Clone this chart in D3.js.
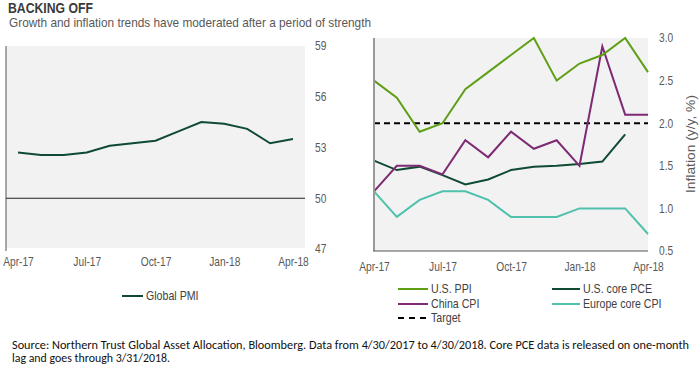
<!DOCTYPE html>
<html>
<head>
<meta charset="utf-8">
<script src="https://cdn.jsdelivr.net/npm/d3@7"></script>
<style>
  html, body { margin: 0; padding: 0; background: #fff; }
  svg { display: block; font-family: "Liberation Sans", Arial, sans-serif; }
  .tick-label { font-size: 12px; fill: #595959; }
  .legend-label { font-size: 12.5px; fill: #404040; }
  .source { font-family: Carlito, Calibri, "Liberation Sans", sans-serif; font-size: 12.5px; fill: #111; }
</style>
</head>
<body>
<div id="chart"></div>
<script>
// data
const months = ['Apr-17', 'May-17', 'Jun-17', 'Jul-17', 'Aug-17', 'Sep-17', 'Oct-17',
  'Nov-17', 'Dec-17', 'Jan-18', 'Feb-18', 'Mar-18', 'Apr-18'];
const tickMonths = ['Apr-17', 'Jul-17', 'Oct-17', 'Jan-18', 'Apr-18'];

const globalPmi = [52.7, 52.55, 52.55, 52.7, 53.1, 53.25, 53.4, 53.95, 54.5, 54.4, 54.1, 53.25, 53.5];
const pmiTicks = [47, 50, 53, 56, 59];
const pmiBaseline = 50;

const usPpi = [2.5, 2.3, 1.9, 2.0, 2.4, 2.6, 2.8, 3.0, 2.5, 2.7, 2.8, 3.0, 2.6];
const usCorePce = [1.56, 1.45, 1.49, 1.39, 1.28, 1.34, 1.45, 1.49, 1.5, 1.52, 1.55, 1.87, null];
const chinaCpi = [1.2, 1.5, 1.5, 1.4, 1.8, 1.6, 1.9, 1.7, 1.8, 1.5, 2.9, 2.1, 2.1];
const europeCoreCpi = [1.2, 0.9, 1.1, 1.2, 1.2, 1.1, 0.9, 0.9, 0.9, 1.0, 1.0, 1.0, 0.7];
const inflationTarget = 2.0;
const inflationTicks = [0.5, 1.0, 1.5, 2.0, 2.5, 3.0];

const colors = {
  pmi: '#0f4a33',
  ppi: '#5f9f16',
  pce: '#0f4a33',
  china: '#7e2a74',
  europe: '#4fc1ad',
  target: '#000',
};

const width = 700;
const height = 370;
// horizontal squeeze to mimic a narrow font
const narrow = 0.85;

const $svg = d3.select('#chart').append('svg')
  .attr('width', width)
  .attr('height', height);

// title
$svg.append('text')
  .attr('x', 8).attr('y', 13)
  .attr('textLength', 85).attr('lengthAdjust', 'spacingAndGlyphs')
  .style('font-size', '14px').style('font-weight', 'bold').style('fill', '#3a3a3a')
  .text('BACKING OFF');
$svg.append('text')
  .attr('x', 9).attr('y', 27)
  .attr('textLength', 362).attr('lengthAdjust', 'spacingAndGlyphs')
  .style('font-size', '13px').style('fill', '#595959')
  .text('Growth and inflation trends have moderated after a period of strength');

// helper: draw one series line
function drawLine($g, values, scaleX, scaleY, color, dash) {
  const line = d3.line()
    .defined(d => d != null)
    .x((d, i) => scaleX(months[i]))
    .y(d => scaleY(d));
  $g.append('path')
    .datum(values)
    .attr('fill', 'none')
    .attr('stroke', color)
    .attr('stroke-width', 2)
    .attr('stroke-dasharray', dash || null)
    .attr('d', line);
}

// helper: restyle axis labels, squeezed
function styleTicks(g, padX) {
  g.select('.domain').remove();
  g.selectAll('text')
    .attr('class', 'tick-label')
    .style('font-family', null).style('font-size', null)
    .attr('transform', `scale(${narrow},1)`);
  if (padX != null) g.selectAll('text').attr('x', padX / narrow);
}

// ---- left chart: Global PMI
const left = { x0: 6, x1: 305, y0: 46, y1: 248 };
const pmiX = d3.scalePoint().domain(months).range([18, 293]);
const pmiY = d3.scaleLinear().domain([47, 59]).range([left.y1 + 1, left.y0]);

const $left = $svg.append('g').attr('class', 'left');
$left.append('rect')
  .attr('x', left.x0).attr('y', left.y0)
  .attr('width', left.x1 - left.x0).attr('height', left.y1 - left.y0)
  .attr('fill', '#f2f2f2');

$left.append('line')
  .attr('x1', left.x0).attr('x2', left.x0)
  .attr('y1', left.y0).attr('y2', left.y1 + 3)
  .attr('stroke', '#555').attr('stroke-width', 1);

$left.append('line')
  .attr('x1', left.x0).attr('x2', left.x1)
  .attr('y1', pmiY(pmiBaseline)).attr('y2', pmiY(pmiBaseline))
  .attr('stroke', '#222').attr('stroke-width', 1);

$left.append('g')
  .attr('transform', `translate(${left.x1}, 0)`)
  .call(d3.axisRight(pmiY).tickValues(pmiTicks).tickSize(0))
  .call(g => styleTicks(g, 10));

$left.append('g')
  .attr('transform', `translate(0, ${left.y1})`)
  .call(d3.axisBottom(pmiX).tickValues(tickMonths).tickSize(0).tickPadding(9))
  .call(g => styleTicks(g));

drawLine($left, globalPmi, pmiX, pmiY, colors.pmi);

// ---- right chart: inflation
const right = { x0: 374, x1: 648, y0: 38, y1: 251 };
const infX = d3.scalePoint().domain(months).range([right.x0, right.x1]);
const infY = d3.scaleLinear().domain([0.5, 3.0]).range([right.y1, right.y0]);

const $right = $svg.append('g').attr('class', 'right');
$right.append('rect')
  .attr('x', right.x0).attr('y', right.y0)
  .attr('width', right.x1 - right.x0).attr('height', right.y1 - right.y0)
  .attr('fill', '#f2f2f2');

$right.append('g')
  .attr('transform', `translate(${right.x1}, 0)`)
  .call(d3.axisRight(infY).tickValues(inflationTicks).tickSize(0).tickFormat(d3.format('.1f')))
  .call(g => styleTicks(g, 11));

$right.append('g')
  .attr('transform', `translate(0, ${right.y1})`)
  .call(d3.axisBottom(infX).tickValues(tickMonths).tickSize(0).tickPadding(11))
  .call(g => styleTicks(g));

$right.append('text')
  .attr('class', 'tick-label')
  .style('font-size', '13px')
  .attr('transform', `translate(695, 144) rotate(-90)`)
  .attr('text-anchor', 'middle')
  .attr('textLength', 98).attr('lengthAdjust', 'spacingAndGlyphs')
  .text('Inflation (y/y, %)');

// target line under series
$right.append('line')
  .attr('x1', right.x0).attr('x2', right.x1)
  .attr('y1', infY(inflationTarget)).attr('y2', infY(inflationTarget))
  .attr('stroke', colors.target).attr('stroke-width', 2)
  .attr('stroke-dasharray', '6,4');

drawLine($right, europeCoreCpi, infX, infY, colors.europe);
drawLine($right, usCorePce, infX, infY, colors.pce);
drawLine($right, chinaCpi, infX, infY, colors.china);
drawLine($right, usPpi, infX, infY, colors.ppi);

// axis lines on top
$right.append('line')
  .attr('x1', right.x0).attr('x2', right.x0)
  .attr('y1', right.y0).attr('y2', right.y1)
  .attr('stroke', '#999').attr('stroke-width', 2);
$right.append('line')
  .attr('x1', right.x0 - 1).attr('x2', right.x1)
  .attr('y1', right.y1).attr('y2', right.y1)
  .attr('stroke', '#555').attr('stroke-width', 1);

// ---- legends
function legendItem(x, y, len, color, label, dash) {
  const $g = $svg.append('g').attr('transform', `translate(${x}, ${y})`);
  $g.append('line')
    .attr('x1', 0).attr('x2', len)
    .attr('stroke', color).attr('stroke-width', 2)
    .attr('stroke-dasharray', dash || null);
  $g.append('text')
    .attr('class', 'legend-label')
    .attr('transform', `translate(${len + 3}, 0) scale(${narrow},1)`)
    .attr('dy', '0.35em')
    .text(label);
}

legendItem(122, 296, 21, colors.pmi, 'Global PMI');
legendItem(398, 289, 30, colors.ppi, 'U.S. PPI');
legendItem(398, 304, 30, colors.china, 'China CPI');
legendItem(398, 318, 30, colors.target, 'Target', '6,5');
legendItem(552, 289, 28, colors.pce, 'U.S. core PCE');
legendItem(552, 304, 28, colors.europe, 'Europe core CPI');

// ---- source note
$svg.append('text')
  .attr('class', 'source')
  .attr('x', 12).attr('y', 349)
  .attr('textLength', 677).attr('lengthAdjust', 'spacingAndGlyphs')
  .text('Source: Northern Trust Global Asset Allocation, Bloomberg. Data from 4/30/2017  to 4/30/2018.  Core PCE data is released on one-month');
$svg.append('text')
  .attr('class', 'source')
  .attr('x', 12).attr('y', 362)
  .attr('textLength', 158).attr('lengthAdjust', 'spacingAndGlyphs')
  .text('lag and goes through 3/31/2018.');
</script>
</body>
</html>
